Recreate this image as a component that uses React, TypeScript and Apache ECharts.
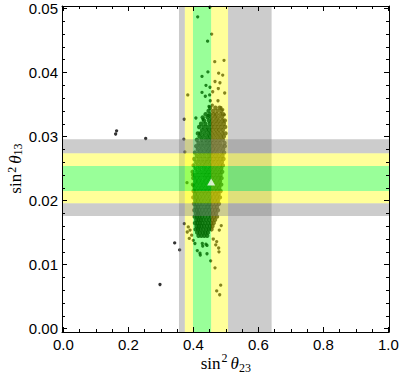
import React, { useEffect, useRef } from "react";
import * as echarts from "echarts";

// ---- axis tick labels ----
const xTickLabels = ["0.0", "0.2", "0.4", "0.6", "0.8", "1.0"];
const yTickLabels = ["0.00", "0.01", "0.02", "0.03", "0.04", "0.05"];

// ---- allowed ranges (sin^2 theta23 on x, sin^2 theta13 on y) ----
const s23Sigma3 = [0.356, 0.641];
const s23Sigma2 = [0.374, 0.507];
const s23Sigma1 = [0.399, 0.455];
const s13Sigma3 = [0.0176, 0.0296];
const s13Sigma2 = [0.0196, 0.0274];
const s13Sigma1 = [0.0215, 0.0254];

// ---- best fit point ----
const bestFit = [0.455, 0.0229];

// ---- isolated scan points ----
const sparsePoints = [
  [0.161, 0.0304], [0.164, 0.0309], [0.2535, 0.0297], [0.2975, 0.0069],
  [0.3427, 0.0134], [0.358, 0.0123], [0.3723, 0.0164], [0.372, 0.0327],
  [0.371, 0.0296], [0.374, 0.0276], [0.383, 0.0365], [0.408, 0.0329],
  [0.4135, 0.0487], [0.451, 0.0502], [0.4566, 0.046], [0.444, 0.0449],
  [0.4945, 0.0419], [0.466, 0.0417], [0.445, 0.0401], [0.478, 0.0399],
  [0.4905, 0.0396], [0.4268, 0.0394], [0.4668, 0.0386], [0.482, 0.0384],
  [0.439, 0.038], [0.477, 0.0375], [0.4514, 0.0377], [0.4597, 0.037],
  [0.4966, 0.0368], [0.4268, 0.0369], [0.437, 0.0363], [0.4504, 0.0365],
  [0.4523, 0.0356], [0.476, 0.0356], [0.4852, 0.0345], [0.4905, 0.0342],
  [0.4483, 0.0347], [0.4585, 0.0349], [0.4955, 0.0334], [0.43, 0.0327],
  [0.446, 0.0333], [0.3806, 0.0228], [0.398, 0.024], [0.4, 0.0224],
  [0.469, 0.0131], [0.478, 0.0126], [0.479, 0.012], [0.4535, 0.0106],
  [0.4668, 0.0095], [0.4843, 0.0068], [0.472, 0.0059], [0.4812, 0.0053],
  [0.4123, 0.0122], [0.4215, 0.0115], [0.4206, 0.0118], [0.4422, 0.0117],
  [0.429, 0.0129], [0.439, 0.0132], [0.4422, 0.013], [0.4277, 0.0133],
  [0.405, 0.0133], [0.395, 0.0146], [0.4, 0.0138], [0.3877, 0.0141],
  [0.4615, 0.014], [0.472, 0.0136], [0.48, 0.0154], [0.3846, 0.0159],
  [0.39, 0.0154], [0.3815, 0.0151], [0.486, 0.0161],
];

// ---- dense cloud of scan points, read row by row: [sin^2 theta13, sin^2 theta23 values] ----
const cloudRows: [number, number[]][] = [
  [0.0345, [0.452, 0.468, 0.481]],
  [0.034, [0.447, 0.461, 0.474, 0.486]],
  [0.0335, [0.438, 0.452, 0.463, 0.471, 0.483, 0.492]],
  [0.033, [0.429, 0.444, 0.455, 0.466, 0.476, 0.488]],
  [0.0325, [0.433, 0.448, 0.458, 0.469, 0.479, 0.49, 0.497]],
  [0.032, [0.424, 0.437, 0.451, 0.461, 0.472, 0.483, 0.494]],
  [0.0315, [0.418, 0.431, 0.443, 0.455, 0.465, 0.476, 0.487, 0.498]],
  [0.031, [0.427, 0.439, 0.449, 0.459, 0.47, 0.48, 0.491]],
  [0.0305, [0.414, 0.422, 0.434, 0.446, 0.456, 0.467, 0.478, 0.489, 0.499]],
  [0.03, [0.419, 0.43, 0.442, 0.452, 0.463, 0.474, 0.485, 0.494]],
  [0.0295, [0.411, 0.425, 0.437, 0.448, 0.458, 0.469, 0.48, 0.491]],
  [0.029, [0.416, 0.428, 0.44, 0.451, 0.461, 0.472, 0.483, 0.496]],
  [0.0285, [0.409, 0.421, 0.433, 0.445, 0.456, 0.466, 0.477, 0.488, 0.497]],
  [0.028, [0.414, 0.426, 0.438, 0.449, 0.46, 0.47, 0.481, 0.492]],
  [0.0275, [0.405, 0.418, 0.43, 0.442, 0.453, 0.463, 0.474, 0.486, 0.495]],
  [0.027, [0.411, 0.423, 0.435, 0.447, 0.457, 0.468, 0.479, 0.49]],
  [0.0265, [0.403, 0.416, 0.428, 0.44, 0.451, 0.462, 0.473, 0.484, 0.493]],
  [0.026, [0.409, 0.421, 0.433, 0.444, 0.455, 0.466, 0.477, 0.488]],
  [0.0255, [0.401, 0.414, 0.426, 0.437, 0.449, 0.46, 0.471, 0.482, 0.491]],
  [0.025, [0.407, 0.419, 0.431, 0.442, 0.453, 0.464, 0.475, 0.486]],
  [0.0245, [0.398, 0.412, 0.424, 0.436, 0.447, 0.458, 0.469, 0.48, 0.489]],
  [0.024, [0.405, 0.417, 0.429, 0.44, 0.451, 0.462, 0.473, 0.484]],
  [0.0235, [0.4, 0.411, 0.422, 0.434, 0.445, 0.456, 0.467, 0.478, 0.487]],
  [0.023, [0.406, 0.416, 0.427, 0.438, 0.449, 0.46, 0.471, 0.482]],
  [0.0225, [0.399, 0.41, 0.421, 0.432, 0.443, 0.454, 0.465, 0.476, 0.486]],
  [0.022, [0.404, 0.415, 0.426, 0.437, 0.448, 0.459, 0.47, 0.48]],
  [0.0215, [0.401, 0.409, 0.42, 0.431, 0.442, 0.453, 0.464, 0.474, 0.484]],
  [0.021, [0.405, 0.414, 0.425, 0.436, 0.447, 0.458, 0.468, 0.478]],
  [0.0205, [0.4, 0.41, 0.419, 0.43, 0.441, 0.452, 0.462, 0.472, 0.482]],
  [0.02, [0.406, 0.414, 0.424, 0.435, 0.446, 0.456, 0.466, 0.476]],
  [0.0195, [0.402, 0.41, 0.419, 0.429, 0.44, 0.45, 0.46, 0.47, 0.479]],
  [0.019, [0.407, 0.414, 0.423, 0.434, 0.444, 0.454, 0.464, 0.473]],
  [0.0185, [0.403, 0.411, 0.418, 0.428, 0.438, 0.448, 0.458, 0.467, 0.476]],
  [0.018, [0.408, 0.415, 0.422, 0.432, 0.442, 0.452, 0.461, 0.47]],
  [0.0175, [0.404, 0.412, 0.419, 0.427, 0.436, 0.446, 0.455, 0.464, 0.473]],
  [0.017, [0.409, 0.416, 0.423, 0.431, 0.44, 0.449, 0.458, 0.467]],
  [0.0165, [0.405, 0.413, 0.42, 0.428, 0.437, 0.446, 0.455, 0.463]],
  [0.016, [0.41, 0.417, 0.425, 0.433, 0.442, 0.451, 0.459]],
  [0.0155, [0.407, 0.415, 0.422, 0.431, 0.44, 0.448, 0.456]],
  [0.015, [0.412, 0.42, 0.429, 0.437, 0.445]],
  [0.0145, [0.416, 0.425, 0.434, 0.443]],
];

// plot-range padding (frame slightly outside 0..1 and 0..0.05)
const X_MIN = -0.004;
const X_MAX = 1.0022;
const Y_MIN = -0.000515;
const Y_MAX = 0.05039;

const bandColors: Record<string, string> = {
  gray: "rgba(128,128,128,0.4)",
  yellow: "rgba(255,255,0,0.4)",
  green: "rgba(0,255,0,0.4)",
};

function bandPieces(s1: number[], s2: number[], s3: number[]) {
  return [
    { value: [s3[0], s2[0]], c: "gray" },
    { value: [s2[0], s1[0]], c: "yellow" },
    { value: [s1[0], s1[1]], c: "green" },
    { value: [s1[1], s2[1]], c: "yellow" },
    { value: [s2[1], s3[1]], c: "gray" },
  ];
}

export default function App() {
  const ref = useRef<HTMLDivElement>(null);

  useEffect(() => {
    document.body.style.margin = "0";
    if (!ref.current) return;
    const chart = echarts.init(ref.current, undefined, { renderer: "svg" });

    const vPieces = bandPieces(s23Sigma1, s23Sigma2, s23Sigma3);
    const hPieces = bandPieces(s13Sigma1, s13Sigma2, s13Sigma3);
    const cloudPoints: number[][] = [];
    cloudRows.forEach(([y, xs]) => xs.forEach((x) => cloudPoints.push([x, y])));

    const tickFont = {
      fontFamily: "Liberation Sans",
      fontSize: 15,
      color: "#000",
    };
    const serif = "Liberation Serif";
    const makeRich = (lh: number, slh: number) => ({
      t: { fontFamily: serif, fontSize: 17, lineHeight: lh, color: "#000", verticalAlign: "middle" },
      sup: { fontFamily: serif, fontSize: 12, lineHeight: slh, color: "#000", verticalAlign: "top", padding: [0, 3, 0, 1] },
      th: { fontFamily: serif, fontSize: 17, fontStyle: "italic", lineHeight: lh, color: "#000", verticalAlign: "middle" },
      sub: { fontFamily: serif, fontSize: 12, lineHeight: slh, color: "#000", verticalAlign: "bottom" },
    });

    const frameAxis = (pos: string) => ({
      gridIndex: 0,
      type: "value",
      min: pos === "top" || pos === "bottom" ? X_MIN : Y_MIN,
      max: pos === "top" || pos === "bottom" ? X_MAX : Y_MAX,
      position: pos,
      axisLine: { show: true, onZero: false, lineStyle: { color: "#000", width: 1 } },
      axisTick: { show: false },
      axisLabel: { show: false },
      splitLine: { show: false },
      z: 10,
    });

    const tickAxis = (pos: string, offset: number, isX: boolean, labels: boolean) => ({
      gridIndex: 1,
      type: "value",
      min: 0,
      max: isX ? 1 : 0.05,
      interval: isX ? 0.2 : 0.01,
      position: pos,
      offset,
      axisLine: { show: false, onZero: false },
      axisTick: { show: true, inside: true, length: 5, lineStyle: { color: "#000", width: 1 } },
      minorTick: { show: true, splitNumber: isX ? 4 : 5, length: 3, lineStyle: { color: "#000", width: 1 } },
      axisLabel: {
        show: labels,
        margin: isX ? 5 : 4,
        ...tickFont,
        formatter: (v: number) =>
          isX ? xTickLabels[Math.round(v / 0.2)] : yTickLabels[Math.round(v / 0.01)],
      },
      splitLine: { show: false },
      minorSplitLine: { show: false },
      z: 10,
    });

    const option: any = {
      animation: false,
      backgroundColor: "#fff",
      grid: [
        { left: 62, top: 6, width: 327, height: 326, containLabel: false, outerBoundsMode: "none" },
        { left: 63.3, top: 8.5, width: 325, height: 320.2, containLabel: false, outerBoundsMode: "none" },
      ],
      xAxis: [
        frameAxis("bottom"),
        frameAxis("top"),
        {
          ...tickAxis("bottom", 3.3, true, true),
          name: "{t|sin}{sup|2}{th|θ}{sub|23}",
          nameLocation: "middle",
          nameGap: 20,
          nameMoveOverlap: false,
          nameTextStyle: { rich: makeRich(22, 12) },
        },
        tickAxis("top", 2.5, true, false),
      ],
      yAxis: [
        frameAxis("left"),
        frameAxis("right"),
        {
          ...tickAxis("left", 1.3, false, true),
          name: "{t|sin}{sup|2}{th|θ}{sub|13}",
          nameLocation: "middle",
          nameGap: 38,
          nameRotate: 90,
          nameMoveOverlap: false,
          nameTextStyle: { rich: makeRich(18, 10) },
        },
        tickAxis("right", 0.7, false, false),
      ],
      series: [
        {
          type: "scatter",
          xAxisIndex: 0,
          yAxisIndex: 0,
          data: sparsePoints,
          symbol: "circle",
          symbolSize: 3.3,
          itemStyle: { color: "#000" },
          silent: true,
          z: 2,
        },
        {
          type: "scatter",
          xAxisIndex: 0,
          yAxisIndex: 0,
          data: cloudPoints,
          symbol: "circle",
          symbolSize: 4.4,
          itemStyle: { color: "#000" },
          silent: true,
          z: 2,
        },
        {
          type: "custom",
          xAxisIndex: 0,
          yAxisIndex: 0,
          silent: true,
          z: 3,
          data: vPieces.map((p) => p.value),
          renderItem: (params: any, api: any) => {
            const a = api.coord([api.value(0), Y_MAX]);
            const b = api.coord([api.value(1), Y_MIN]);
            return {
              type: "rect",
              shape: { x: a[0], y: a[1], width: b[0] - a[0], height: b[1] - a[1] },
              style: { fill: bandColors[vPieces[params.dataIndex].c] },
            };
          },
        },
        {
          type: "custom",
          xAxisIndex: 0,
          yAxisIndex: 0,
          silent: true,
          z: 4,
          data: hPieces.map((p) => p.value),
          renderItem: (params: any, api: any) => {
            const a = api.coord([X_MIN, api.value(1)]);
            const b = api.coord([X_MAX, api.value(0)]);
            return {
              type: "rect",
              shape: { x: a[0], y: a[1], width: b[0] - a[0], height: b[1] - a[1] },
              style: { fill: bandColors[hPieces[params.dataIndex].c] },
            };
          },
        },
        {
          type: "scatter",
          xAxisIndex: 0,
          yAxisIndex: 0,
          data: [bestFit],
          symbol: "triangle",
          symbolSize: [8, 7],
          itemStyle: { color: "#fff" },
          silent: true,
          z: 5,
        },
      ],
    };

    chart.setOption(option);
    return () => chart.dispose();
  }, []);

  return <div ref={ref} style={{ width: 400, height: 380 }} />;
}
